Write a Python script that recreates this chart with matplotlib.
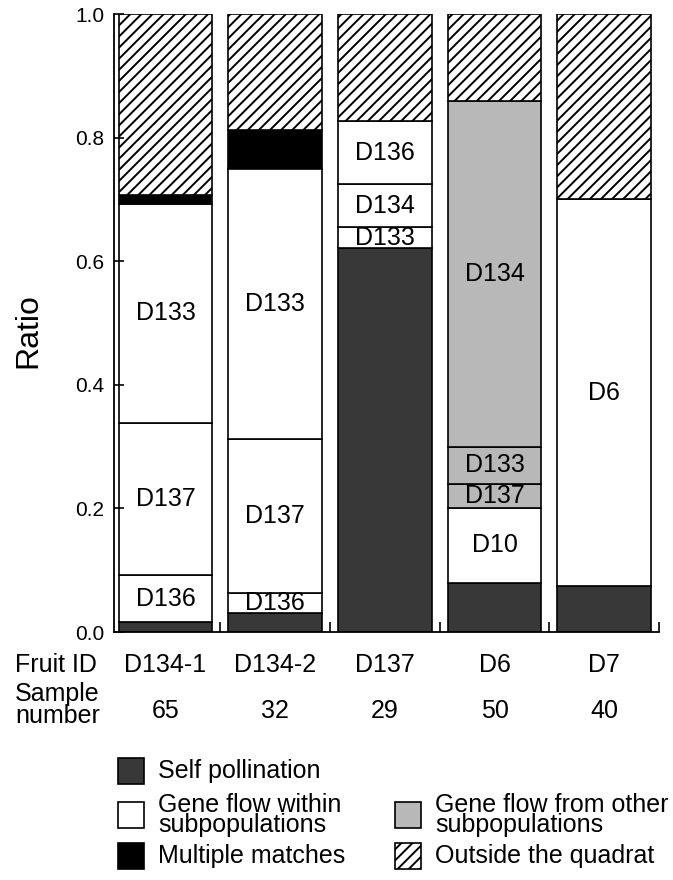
import matplotlib
matplotlib.use("Agg")
import matplotlib.pyplot as plt
from matplotlib.patches import Rectangle

plt.rcParams['font.family'] = ['Liberation Sans', 'DejaVu Sans']
plt.rcParams['hatch.linewidth'] = 1.4

fruit_ids = ['D134-1', 'D134-2', 'D137', 'D6', 'D7']
sample_numbers = [65, 32, 29, 50, 40]

# segments per fruit, bottom to top: (category, label, count)
segments_d134_1 = [('self', '', 1), ('within', 'D136', 5), ('within', 'D137', 16),
                   ('within', 'D133', 23), ('multiple', '', 1), ('outside', '', 19)]
segments_d134_2 = [('self', '', 1), ('within', 'D136', 1), ('within', 'D137', 8),
                   ('within', 'D133', 14), ('multiple', '', 2), ('outside', '', 6)]
segments_d137 = [('self', '', 18), ('within', 'D133', 1), ('within', 'D134', 2),
                 ('within', 'D136', 3), ('outside', '', 5)]
segments_d6 = [('self', '', 4), ('within', 'D10', 6), ('other', 'D137', 2),
               ('other', 'D133', 3), ('other', 'D134', 28), ('outside', '', 7)]
segments_d7 = [('self', '', 3), ('within', 'D6', 25), ('outside', '', 12)]
segments = [segments_d134_1, segments_d134_2, segments_d137, segments_d6, segments_d7]

styles = {
    'self': dict(facecolor='#383838', hatch=None),
    'within': dict(facecolor='white', hatch=None),
    'other': dict(facecolor='#b8b8b8', hatch=None),
    'multiple': dict(facecolor='black', hatch=None),
    'outside': dict(facecolor='white', hatch='///'),
}
legend_names = {
    'self': 'Self pollination',
    'within': 'Gene flow within\nsubpopulations',
    'other': 'Gene flow from other\nsubpopulations',
    'multiple': 'Multiple matches',
    'outside': 'Outside the quadrat',
}

W, H = 673, 880
fig = plt.figure(figsize=(W / 100, H / 100), dpi=100)
ax = fig.add_axes([114 / W, 1 - 632 / H, (659 - 114) / W, (632 - 14) / H])

width = 0.855
for i, segs in enumerate(segments):
    n = sample_numbers[i]
    bottom = 0.0
    for cat, label, count in segs:
        h = count / n
        st = styles[cat]
        ax.bar(i, h, width, bottom=bottom, color=st['facecolor'], hatch=st['hatch'],
               edgecolor='black', linewidth=1.2)
        if label:
            ax.text(i, bottom + h / 2, label, ha='center', va='center', fontsize=18)
        bottom += h

ax.set_xlim(-0.47, 4.5)
ax.set_ylim(0, 1)
ax.spines['top'].set_visible(False)
ax.spines['right'].set_visible(False)
ax.spines['left'].set_linewidth(1.3)
ax.spines['bottom'].set_linewidth(1.3)
ax.set_yticks([0, 0.2, 0.4, 0.6, 0.8, 1.0])
ax.set_yticklabels(['0.0', '0.2', '0.4', '0.6', '0.8', '1.0'])
ax.set_xticks([0.5, 1.5, 2.5, 3.5, 4.5])
ax.set_xticklabels([])
ax.tick_params(direction='in', length=7, width=1.2, labelsize=15, pad=7)
fig.text(28 / W, 1 - 331 / H, 'Ratio', fontsize=23, rotation=90, ha='center', va='center')

# rows under the bars
def fx(x):
    return ax.transData.transform((x, 0))[0] / W

fig.text(15 / W, 1 - 665 / H, 'Fruit ID', fontsize=18, va='center', ha='left')
fig.text(15 / W, 1 - 705 / H, 'Sample\nnumber', fontsize=18, va='center', ha='left',
         linespacing=0.85)
for i, (fid, num) in enumerate(zip(fruit_ids, sample_numbers)):
    fig.text(fx(i), 1 - 665 / H, fid, fontsize=18, ha='center', va='center')
    fig.text(fx(i), 1 - 711 / H, str(num), fontsize=18, ha='center', va='center')

# legend
legend_layout = [('self', 118, 771), ('within', 118, 815), ('multiple', 118, 856),
                 ('other', 395, 815), ('outside', 395, 856)]
for cat, x, y in legend_layout:
    st = styles[cat]
    fig.patches.append(Rectangle((x / W, 1 - (y + 13) / H), 26 / W, 26 / H,
                                 transform=fig.transFigure, facecolor=st['facecolor'],
                                 hatch=st['hatch'], edgecolor='black', linewidth=1.2))
    fig.text((x + 40) / W, 1 - y / H, legend_names[cat], fontsize=18, va='center',
             ha='left', linespacing=0.75)

fig.savefig('out.png', dpi=100)
